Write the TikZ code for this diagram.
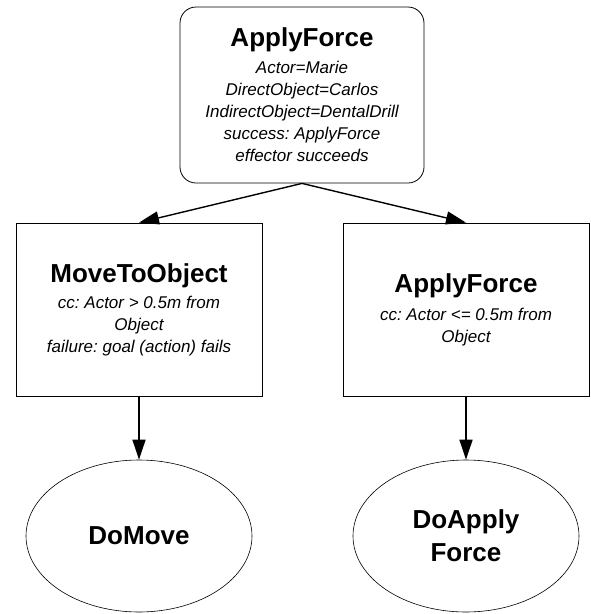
\documentclass[tikz,border=0pt]{standalone}
\usepackage{fontspec}
\setmainfont{Liberation Sans}
\usetikzlibrary{arrows.meta,shapes.geometric}
\frenchspacing

\newcommand{\headfont}{\fontsize{26}{33}\selectfont\upshape\bfseries}
\newcommand{\notefont}{\fontsize{17}{22}\selectfont\itshape}

\begin{document}
\begin{tikzpicture}[x=1pt, y=-1pt, >={Triangle[length=20pt,width=13pt]},
  goalbox/.style={draw, rounded corners=16pt, line width=0.8pt, align=center,
    inner sep=0pt, minimum width=244pt, minimum height=176pt, font=\notefont},
  planbox/.style={draw, line width=0.8pt, align=center, inner sep=0pt,
    minimum width=246pt, minimum height=173pt, font=\notefont},
  actnode/.style={draw, ellipse, line width=0.6pt, align=center, inner sep=0pt,
    minimum width=226pt, minimum height=152pt, font=\headfont},
  link/.style={->, line width=1.4pt}]
\useasboundingbox (0,0) rectangle (591,614);

% Goal at the root
\node[goalbox] (goal) at (302,95) {{\headfont ApplyForce}\\[5pt]
  Actor=Marie\\ DirectObject=Carlos\\ IndirectObject=DentalDrill\\
  success: ApplyForce\\ effector succeeds};

% Plans
\node[planbox] (move) at (139,309.5) {{\headfont MoveToObject}\\[4pt]
  cc: Actor > 0.5m from\\ Object\\ failure: goal (action) fails};
\node[planbox] (apply) at (466,309.5) {{\headfont ApplyForce}\\[6pt]
  cc: Actor <= 0.5m from\\ Object};

% Actions
\node[actnode] (domove) at (139,536) {DoMove};
\node[actnode] (doapply) at (466,536) {DoApply\\ Force};

% Links
\draw[link] (goal.south) -- (move.north);
\draw[link] (goal.south) -- (apply.north);
\draw[link] (move) -- (domove);
\draw[link] (apply) -- (doapply);
\end{tikzpicture}
\end{document}
